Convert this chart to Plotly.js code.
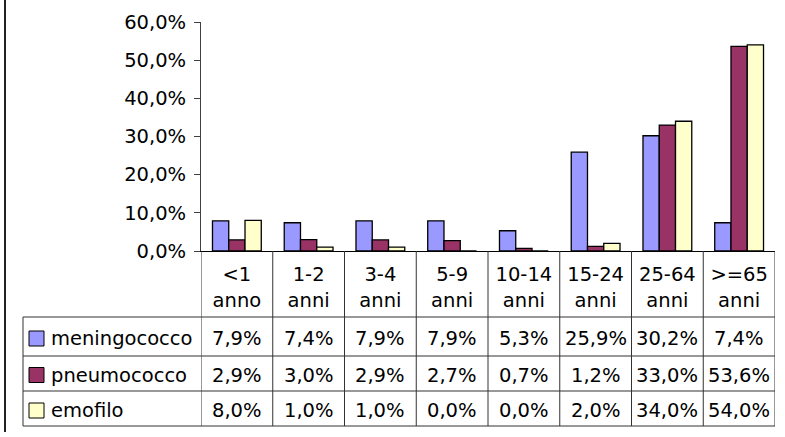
<!DOCTYPE html>
<html><head><meta charset="utf-8">
<script src="https://cdn.plot.ly/plotly-3.0.1.min.js"></script>
<style>html,body{margin:0;padding:0;background:#fff}</style>
</head><body><div id="chart" style="width:785px;height:437px"></div>
<script>
const categories = ['<1 anno','1-2 anni','3-4 anni','5-9 anni','10-14 anni','15-24 anni','25-64 anni','>=65 anni'];
const tickLabels = ['&lt;1<br>anno','1-2<br>anni','3-4<br>anni','5-9<br>anni','10-14<br>anni','15-24<br>anni','25-64<br>anni','&gt;=65<br>anni'];
const seriesNames = ['meningococco','pneumococco','emofilo'];
const meningococco = [7.9,7.4,7.9,7.9,5.3,25.9,30.2,7.4];
const pneumococco = [2.9,3.0,2.9,2.7,0.7,1.2,33.0,53.6];
const emofilo = [8.0,1.0,1.0,0.0,0.0,2.0,34.0,54.0];
const colors = ['#9999FF','#993366','#FFFFCC'];

const series = [meningococco, pneumococco, emofilo];
const FONT = {family:'DejaVu Sans', size:19.5, color:'#000'};
// pixel -> paper helpers (plot area: x 201..775, y 22..251)
const L = 201, R = 775, T = 22, B = 251;
const px = x => (x - L) / (R - L);
const py = y => (B - y) / (B - T);

const traces = series.map((vals, s) => ({
  type:'bar', x:categories, y:vals, name:seriesNames[s],
  marker:{color:colors[s], line:{color:'#000', width:1.3}},
  hoverinfo:'none'
}));

const fmt = v => v.toFixed(1).replace('.', ',') + '%';
const rowLines = [317, 356, 391, 426];
const rowCenters = [338.5, 375, 410.5];
const LINE = {color:'#333', width:1};

const shapes = [];
const annotations = [];
// vertical category dividers through the table
for (let i = 0; i <= categories.length; i++) {
  shapes.push({type:'line', xref:'x', yref:'paper', x0:i-0.5, x1:i-0.5, y0:py(B), y1:py(426), line:LINE});
}
// horizontal row lines
rowLines.forEach(y => shapes.push({type:'line', xref:'paper', yref:'paper', x0:px(23), x1:px(R), y0:py(y), y1:py(y), line:LINE}));
// left edge of legend column
shapes.push({type:'line', xref:'paper', yref:'paper', x0:px(23), x1:px(23), y0:py(317), y1:py(426), line:LINE});
// outer left border of the picture
shapes.push({type:'line', xref:'paper', yref:'paper', x0:px(5), x1:px(5), y0:py(0), y1:py(432), line:{color:'#222', width:2}});

series.forEach((vals, s) => {
  // legend key swatch + name
  shapes.push({type:'rect', xref:'paper', yref:'paper', x0:px(29), x1:px(44), y0:py(rowCenters[s]-7.5), y1:py(rowCenters[s]+7.5),
    fillcolor:colors[s], line:{color:'#000', width:1}});
  annotations.push({xref:'paper', yref:'paper', x:px(49), y:py(rowCenters[s]), xanchor:'left', yanchor:'middle',
    text:seriesNames[s], showarrow:false, font:FONT});
  vals.forEach((v, i) => annotations.push({xref:'x', yref:'paper', x:categories[i], y:py(rowCenters[s]),
    xanchor:'center', yanchor:'middle', text:fmt(v), showarrow:false, font:FONT}));
});

const layout = {
  width:785, height:437,
  margin:{l:L, r:785-R, t:T, b:437-B, pad:0},
  paper_bgcolor:'#fff', plot_bgcolor:'#fff',
  separators:',.',
  barmode:'group', bargap:0.32, bargroupgap:0,
  showlegend:false,
  xaxis:{type:'category', range:[-0.5, 7.5], tickmode:'array', tickvals:categories, ticktext:tickLabels,
    showline:true, linecolor:'#000', linewidth:1, ticks:'', showgrid:false, zeroline:false,
    ticklabelstandoff:6, tickfont:FONT, fixedrange:true},
  yaxis:{range:[0, 60], dtick:10, tickformat:'.1f', ticksuffix:'%', ticks:'outside', ticklen:6, tickcolor:'#404040',
    showline:true, linecolor:'#404040', linewidth:1, showgrid:false, zeroline:false,
    ticklabelstandoff:4, tickfont:FONT, fixedrange:true},
  shapes:shapes, annotations:annotations
};
Plotly.newPlot('chart', traces, layout, {displayModeBar:false, staticPlot:true});
</script></body></html>
